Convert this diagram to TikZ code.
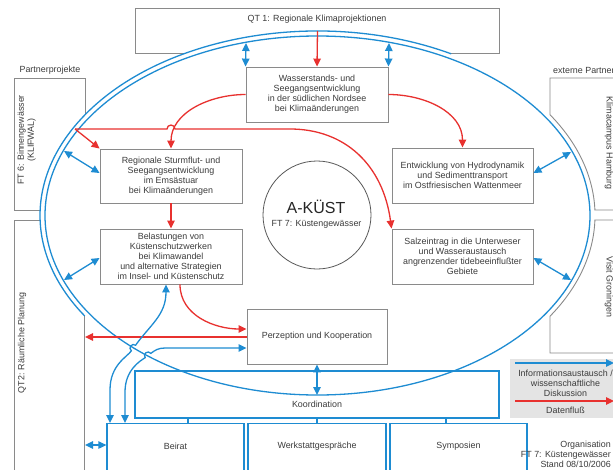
\documentclass[tikz,border=0pt]{standalone}
\usepackage{fontspec}
\setmainfont{Liberation Sans}
\usetikzlibrary{arrows.meta}
\definecolor{ablue}{HTML}{1E8CD2}
\definecolor{ared}{HTML}{E8312F}
\definecolor{boxgray}{HTML}{8A8A8A}
\definecolor{txt}{HTML}{3C3C3C}
\definecolor{leggray}{HTML}{E4E4E4}
\begin{document}
\begin{tikzpicture}[x=1pt,y=1pt,
  every node/.style={font=\fontsize{8.9}{10}\selectfont, text=txt, inner sep=0pt},
  gbox/.style={draw=boxgray, line width=0.9pt, align=center},
  bbox/.style={draw=ablue, line width=1.3pt, align=center},
  bl/.style={draw=ablue, line width=1.3pt},
  gl/.style={draw=boxgray, line width=0.9pt},
  rarr/.style={draw=ared, line width=1.3pt, -{Triangle[length=8pt,width=7.5pt]}},
  barr/.style={draw=ablue, line width=1.3pt, -{Triangle[length=8pt,width=7.5pt]}},
  bdarr/.style={draw=ablue, line width=1.3pt, {Triangle[length=8pt,width=7.5pt]}-{Triangle[length=8pt,width=7.5pt]}},
]
\useasboundingbox (0,0) rectangle (613,-469);
\clip (0,0) rectangle (613,-469);
\fill[white] (0,0) rectangle (613,-469);

% partner boxes and QT1 (gray outlines)
\draw[gl] (183.8,-53.8) -- (135,-53.8) -- (135,-8) -- (499,-8) -- (499,-53.8) -- (451.2,-53.8);
\draw[gl] (85,-114.8) -- (85,-78) -- (14,-78) -- (14,-210) -- (40.1,-210);
\draw[gl] (40.1,-220) -- (14,-220) -- (14,-480);
\draw[gl] (84.8,-316) -- (84.8,-480);
\draw[gl] (620,-210) -- (594.9,-210) arc[start angle=1.7, end angle=33.1, x radius=277.5, y radius=184.5] -- (550,-78) -- (620,-78);
\draw[gl] (620,-220) -- (594.9,-220) arc[start angle=-1.4, end angle=-33.1, x radius=277.5, y radius=184.5] -- (550,-353) -- (620,-353);

% ellipses
\draw[bl] (317.5,-215.5) ellipse[x radius=272.5, y radius=179.5];
\draw[bl] (317.5,-215.5) ++(61.2:277.5 and 184.5) arc[start angle=61.2, end angle=213, x radius=277.5, y radius=184.5];

% labels of partner areas
\node (qt1) at (317,-19) {QT 1: Regionale Klimaprojektionen};
\node (pp) at (50,-70) {Partnerprojekte};
\node[anchor=west] (ep) at (553,-70) {externe Partner};
\node[rotate=90, align=center] (ft6) at (26.5,-140) {FT 6: Binnengewässer\\(KLIFWAL)};
\node[rotate=90] (qt2) at (22,-343) {QT2: Räumliche Planung};
\node[rotate=-90] (kh) at (609,-143) {Klimacampus Hamburg};
\node[rotate=-90] (vg) at (609,-287) {Visit Groningen};

% inner boxes
\node[gbox, minimum width=142pt, minimum height=55pt] (wass) at (317,-94.5) {Wasserstands- und\\Seegangsentwicklung\\in der südlichen Nordsee\\bei Klimaänderungen};
\node[gbox, minimum width=142pt, minimum height=54pt] (reg) at (171,-176) {Regionale Sturmflut- und\\Seegangsentwicklung\\im Emsästuar\\bei Klimaänderungen};
\node[gbox, minimum width=142pt, minimum height=55pt] (bel) at (171,-256.5) {Belastungen von\\Küstenschutzwerken\\bei Klimawandel\\und alternative Strategien\\im Insel- und Küstenschutz};
\node[gbox, minimum width=141pt, minimum height=55pt] (ent) at (462.5,-175.5) {Entwicklung von Hydrodynamik\\und Sedimenttransport\\im Ostfriesischen Wattenmeer};
\node[gbox, minimum width=141pt, minimum height=55pt] (salz) at (462.5,-256.5) {Salzeintrag in die Unterweser\\und Wasseraustausch\\angrenzender tidebeeinflußter\\Gebiete};
\node[gbox, minimum width=140pt, minimum height=55pt] (perz) at (317,-336.5) {Perzeption und Kooperation};

% center circle
\node[draw=black!65, line width=0.8pt, circle, minimum size=108pt] (akuest) at (317,-215) {};
\node[anchor=base, font=\fontsize{16}{18}\selectfont, text=black!85] (akt) at (316,-213) {A-KÜST};
\node[anchor=base] (ft7) at (316.5,-226) {FT 7: Küstengewässer};

% bottom boxes
\node[bbox, minimum width=364pt, minimum height=47pt] (koord) at (317,-394.5) {};
\node (koordt) at (317,-404) {Koordination};
\node[bbox, minimum width=137pt, minimum height=60pt, anchor=north] (beirat) at (175.5,-423) {};
\node[bbox, minimum width=138pt, minimum height=60pt, anchor=north] (werk) at (317,-423) {};
\node[bbox, minimum width=137pt, minimum height=60pt, anchor=north] (symp) at (458.5,-423) {};
\node (beiratt) at (175.5,-446) {Beirat};
\node (werkt) at (317,-446) {Werkstattgespräche};
\node (sympt) at (458.5,-446) {Symposien};
\draw[bl] (koord.south -| 188,0) -- (beirat.north -| 188,0);
\draw[bl] (koord.south -| werk.north) -- (werk.north);
\draw[bl] (koord.south -| 446,0) -- (symp.north -| 446,0);

% coordinates on ellipses / partner boxes
\coordinate (qt1in) at (317.5,-31);
\coordinate (redsrc) at (75,-129);
\coordinate (eW1) at (246,-43);
\coordinate (eW2) at (389,-43);
\coordinate (eReg) at (64,-151);
\coordinate (eBel) at (64,-280);
\coordinate (eEnt) at (571,-152);
\coordinate (eSalz) at (571,-280);
\coordinate (ebot) at (317,-395);
\coordinate (qt2r) at (85,-337);
\coordinate (qt2b) at (85,-445);

% red data flow
\draw[rarr] (qt1in) -- (wass.north);
\draw[rarr] (wass.west) to[out=180,in=90] (reg.north);
\draw[rarr] (redsrc) -- (reg.north west);
\draw[rarr] (redsrc) -- (167,-129) arc[start angle=180, end angle=0, radius=4] -- (290,-129) .. controls (345,-129) and (383,-165) .. (salz.north west);
\draw[rarr] (wass.east) to[out=0,in=90] (ent.north);
\draw[rarr] (reg.south) -- (bel.north);
\draw[rarr] (bel.south -| 180,0) to[out=-90,in=180] (perz.west |- 0,-329);
\draw[rarr] (perz.west |- 0,-337) -- (qt2r);

% blue information exchange
\draw[bdarr] (eW1) -- (wass.north west);
\draw[bdarr] (eW2) -- (wass.north east);
\draw[bdarr] (eReg) -- (reg.west |- 0,-173);
\draw[bdarr] (eBel) -- (bel.west |- 0,-258);
\draw[bdarr] (ent.east |- 0,-173) -- (eEnt);
\draw[bdarr] (salz.east |- 0,-258) -- (eSalz);
\draw[bdarr] (perz.south) -- (ebot);
\draw[bdarr] (qt2b) -- (beirat.west |- 0,-445);
\draw[bdarr] (bel.south -| 166,0) .. controls (166,-315) and (150,-325) .. (135.6,-345.2) arc[start angle=53.1, end angle=233.1, radius=3.5] .. controls (127,-357) and (110,-365) .. (110,-390) -- (beirat.north -| 110,0);
\draw[bdarr] (perz.west |- 0,-348) -- (165,-348) .. controls (158,-348) and (154.8,-350.4) .. (150.8,-353.4) arc[start angle=36.9, end angle=216.9, radius=3.5] .. controls (140,-361) and (125,-370) .. (125,-392) -- (beirat.north -| 125,0);

% legend
\node[fill=leggray, minimum width=110pt, minimum height=59pt, anchor=north west] (leg) at (510,-359) {};
\coordinate (lb1) at (515,-363);
\coordinate (lb2) at (614,-363);
\coordinate (lr1) at (515,-401);
\coordinate (lr2) at (614,-401);
\draw[barr] (lb1) -- (lb2);
\draw[rarr] (lr1) -- (lr2);
\node[align=center] (legt) at (565.5,-383) {Informationsaustausch /\\wissenschaftliche\\Diskussion};
\node (legd) at (565.5,-410) {Datenfluß};

% footer
\node[align=right, anchor=east] (org) at (611,-454) {Organisation\\FT 7: Küstengewässer\\Stand 08/10/2006};
\end{tikzpicture}
\end{document}
